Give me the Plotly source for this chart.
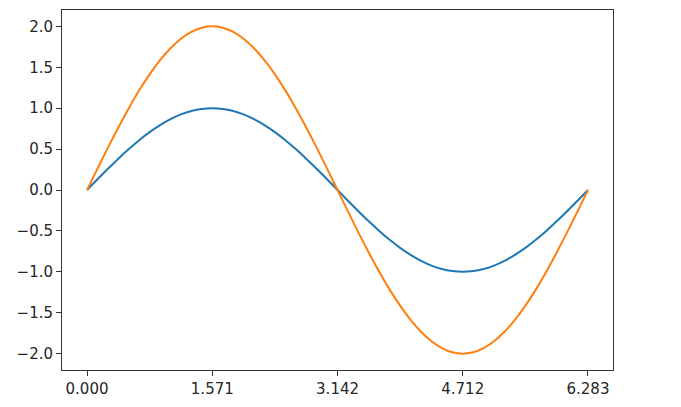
import plotly.graph_objects as go

x_vals = [0.000, 0.131, 0.262, 0.393, 0.524, 0.654, 0.785, 0.916, 1.047, 1.178, 1.309, 1.440,
          1.571, 1.702, 1.833, 1.963, 2.094, 2.225, 2.356, 2.487, 2.618, 2.749, 2.880, 3.011,
          3.142, 3.273, 3.403, 3.534, 3.665, 3.796, 3.927, 4.058, 4.189, 4.320, 4.451, 4.581,
          4.712, 4.843, 4.974, 5.105, 5.236, 5.367, 5.498, 5.629, 5.760, 5.890, 6.021, 6.152, 6.283]

y_sin = [0.000, 0.131, 0.259, 0.383, 0.500, 0.609, 0.707, 0.793, 0.866, 0.924, 0.966, 0.991,
         1.000, 0.991, 0.966, 0.924, 0.866, 0.793, 0.707, 0.609, 0.500, 0.383, 0.259, 0.131,
         0.000, -0.131, -0.259, -0.383, -0.500, -0.609, -0.707, -0.793, -0.866, -0.924, -0.966, -0.991,
         -1.000, -0.991, -0.966, -0.924, -0.866, -0.793, -0.707, -0.609, -0.500, -0.383, -0.259, -0.131, 0.000]

y_2sin = [0.000, 0.261, 0.518, 0.765, 1.000, 1.218, 1.414, 1.587, 1.732, 1.848, 1.932, 1.983,
          2.000, 1.983, 1.932, 1.848, 1.732, 1.587, 1.414, 1.218, 1.000, 0.765, 0.518, 0.261,
          0.000, -0.261, -0.518, -0.765, -1.000, -1.218, -1.414, -1.587, -1.732, -1.848, -1.932, -1.983,
          -2.000, -1.983, -1.932, -1.848, -1.732, -1.587, -1.414, -1.218, -1.000, -0.765, -0.518, -0.261, 0.000]

x_tick_vals = [0.000, 1.571, 3.142, 4.712, 6.283]
x_tick_text = ["0.000", "1.571", "3.142", "4.712", "6.283"]
y_tick_vals = [-2.0, -1.5, -1.0, -0.5, 0.0, 0.5, 1.0, 1.5, 2.0]
y_tick_text = ["\u22122.0", "\u22121.5", "\u22121.0", "\u22120.5", "0.0", "0.5", "1.0", "1.5", "2.0"]

fig = go.Figure()
fig.add_trace(go.Scatter(x=x_vals, y=y_sin, mode="lines", line=dict(color="#1f77b4", width=2, shape="spline")))
fig.add_trace(go.Scatter(x=x_vals, y=y_2sin, mode="lines", line=dict(color="#ff7f0e", width=2, shape="spline")))

axis_common = dict(showgrid=False, zeroline=False, showline=True, linecolor="#333333", linewidth=1,
                   mirror=True, ticks="outside", ticklen=5, tickwidth=1, tickcolor="#333333",
                   tickfont=dict(family="DejaVu Sans", size=15, color="#262626"))

# page body has an 8px margin, so the figure is sized to fit the 681x407 window
fig.update_layout(
    width=673, height=399,
    margin=dict(l=54, r=68, t=2, b=37),
    paper_bgcolor="white", plot_bgcolor="white",
    showlegend=False,
    xaxis=dict(range=[-0.314, 6.597], tickmode="array", tickvals=x_tick_vals, ticktext=x_tick_text, **axis_common),
    yaxis=dict(range=[-2.2, 2.2], tickmode="array", tickvals=y_tick_vals, ticktext=y_tick_text, **axis_common),
)

fig.write_html("out.html")
